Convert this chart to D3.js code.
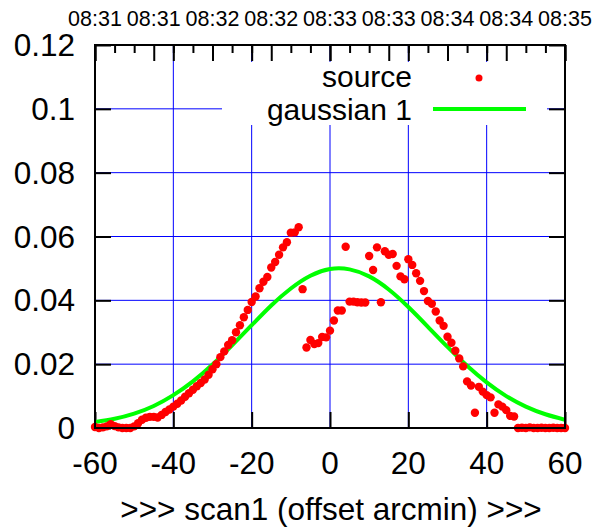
<!DOCTYPE html>
<html>
<head>
<meta charset="utf-8">
<script src="https://cdn.jsdelivr.net/npm/d3@7"></script>
<style>
html,body{margin:0;padding:0;background:#fff;}
svg{display:block;}
text{font-family:"Liberation Sans",Arial,Helvetica,sans-serif;fill:#000;}
</style>
</head>
<body>
<svg id="chart" width="603" height="529"></svg>
<script>
// ---- data ----
const scanX = [-60,-59,-58,-57,-56,-55,-54,-53,-52,-51,-50,-49,-48,-47,-46,-45,-44,-43,-42,-41,
  -40,-39,-38,-37,-36,-35,-34,-33,-32,-31,-30,-29,-28,-27,-26,-25,-24,-23,-22,-21,
  -20,-19,-18,-17,-16,-15,-14,-13,-12,-11,-10,-9,-8,-7,-6,-5,-4,-3,-2,-1,
  0,1,2,3,4,5,6,7,8,9,10,11,12,13,14,15,16,17,18,19,
  20,21,22,23,24,25,26,27,28,29,30,31,32,33,34,35,36,37,38,39,
  40,41,42,43,44,45,46,47,48,49,50,51,52,53,54,55,56,57,58,59,60];
const sourceVals = [0.0003,0.0000,0.0002,0.0005,0.0012,0.0006,0.0002,0.0000,0.0000,0.0000,
  0.0005,0.0015,0.0026,0.0032,0.0035,0.0035,0.0033,0.0041,0.0050,0.0058,
  0.0067,0.0076,0.0086,0.0098,0.0109,0.0120,0.0131,0.0141,0.0152,0.0167,
  0.0184,0.0200,0.0222,0.0240,0.0260,0.0275,0.0300,0.0322,0.0347,0.0370,
  0.0395,0.0412,0.0438,0.0458,0.0473,0.0503,0.0520,0.0543,0.0566,0.0582,
  0.0612,0.0613,0.0629,0.0435,0.0252,0.0276,0.0263,0.0266,0.0285,0.0284,
  0.0305,0.0337,0.0368,0.0368,0.0568,0.0396,0.0396,0.0394,0.0393,0.0393,
  0.0539,0.0495,0.0566,0.0394,0.0554,0.0543,0.0545,0.0508,0.0475,0.0466,
  0.0529,0.0511,0.0485,0.0461,0.0429,0.0398,0.0389,0.0365,0.0337,0.0320,
  0.0286,0.0267,0.0242,0.0218,0.0193,0.0146,0.0133,0.0048,0.0129,0.0114,
  0.0103,0.0096,0.0048,0.0074,0.0067,0.0056,0.0038,0.0036,0.0000,0.0001,
  0.0000,0.0002,0.0000,0.0000,0.0001,0.0000,0.0000,0.0001,0.0000,0.0000,0.0000];
const gaussX = [-60,-55,-50,-45,-40,-35,-30,-25,-20,-15,-10,-5,0,5,10,15,20,25,30,35,40,45,50,55,60];
const gaussVals = [0.0019,0.0029,0.0045,0.0069,0.0103,0.0146,0.0199,0.0259,0.0322,0.0384,0.0437,0.0477,
  0.0498,0.0497,0.0475,0.0434,0.0379,0.0317,0.0254,0.0195,0.0143,0.0100,0.0067,0.0043,0.0026];
const xTicks = [-60,-40,-20,0,20,40,60];
const xTickLabels = ["-60","-40","-20","0","20","40","60"];
const yTicks = [0,0.02,0.04,0.06,0.08,0.1,0.12];
const yTickLabels = ["0","0.02","0.04","0.06","0.08","0.1","0.12"];
const timeTicks = [-60,-45,-30,-15,0,15,30,45,60];
const timeLabels = ["08:31","08:31","08:32","08:32","08:33","08:33","08:34","08:34","08:35"];
const timeMinor = [-55,-50,-40,-35,-25,-20,-10,-5,5,10,20,25,35,40,50,55];
const legendNames = ["source","gaussian 1"];
const xTitle = ">>> scan1 (offset arcmin) >>>";

// ---- layout ----
const L = 95, R = 565, T = 45, B = 428;
const BIG = "31.5px", LEG = "30px", SMALL = "21.5px";
const svg = d3.select("#chart");
const x = d3.scaleLinear().domain([-60, 60]).range([L, R]);
const y = d3.scaleLinear().domain([0, 0.12]).range([B, T]);

// grid
const grid = svg.append("g");
grid.selectAll("line.gx").data(xTicks.slice(1, -1)).enter().append("line")
  .attr("x1", d => x(d)).attr("x2", d => x(d)).attr("y1", T).attr("y2", B)
  .attr("stroke", "#0000ff").attr("stroke-width", 1);
grid.selectAll("line.gy").data(yTicks.slice(1, -1)).enter().append("line")
  .attr("x1", L).attr("x2", R).attr("y1", d => y(d)).attr("y2", d => y(d))
  .attr("stroke", "#0000ff").attr("stroke-width", 1);

// legend background (covers grid)
svg.append("rect").attr("x", 222).attr("y", 62).attr("width", 325).attr("height", 63).attr("fill", "#fff");

// axes (ticks inward)
const TL = 16, TS = 8;
const axB = d3.axisBottom(x).tickValues(xTicks).tickSize(-TL).tickFormat("");
const axL = d3.axisLeft(y).tickValues(yTicks).tickSize(-TL).tickFormat("");
const axR = d3.axisRight(y).tickValues(yTicks).tickSize(-TL).tickFormat("");
const axT = d3.axisTop(x).tickValues(xTicks).tickSize(-TL).tickFormat("");
const axT2 = d3.axisTop(x).tickValues(timeTicks).tickSize(-TL).tickFormat("");
const axT2m = d3.axisTop(x).tickValues(timeMinor).tickSize(-TS).tickFormat("");
function styleAx(g){ g.select(".domain").remove(); g.selectAll("line").attr("stroke","#000").attr("stroke-width",2); }
svg.append("g").attr("transform", `translate(0,${B})`).call(axB).call(styleAx);
svg.append("g").attr("transform", `translate(${L},0)`).call(axL).call(styleAx);
svg.append("g").attr("transform", `translate(${R},0)`).call(axR).call(styleAx);
svg.append("g").attr("transform", `translate(0,${T})`).call(axT).call(styleAx);
svg.append("g").attr("transform", `translate(0,${T})`).call(axT2).call(styleAx);
svg.append("g").attr("transform", `translate(0,${T})`).call(axT2m).call(styleAx);

// tick labels
svg.append("g").selectAll("text").data(xTicks).enter().append("text")
  .attr("x", d => x(d)).attr("y", 474).attr("text-anchor", "middle")
  .style("font-size", BIG).text((d, i) => xTickLabels[i]);
svg.append("g").selectAll("text").data(yTicks).enter().append("text")
  .attr("x", 75).attr("y", d => y(d) + 11).attr("text-anchor", "end")
  .style("font-size", BIG).text((d, i) => yTickLabels[i]);
svg.append("g").selectAll("text").data(timeTicks).enter().append("text")
  .attr("x", d => x(d)).attr("y", 26).attr("text-anchor", "middle")
  .style("font-size", SMALL).text((d, i) => timeLabels[i]);
svg.append("text").attr("x", 331).attr("y", 520).attr("text-anchor", "middle")
  .style("font-size", BIG).text(xTitle);

// clip
svg.append("clipPath").attr("id", "clip").append("rect")
  .attr("x", L).attr("y", T).attr("width", R - L).attr("height", B - T);

// gaussian curve
const gData = gaussX.map((v, i) => [v, gaussVals[i]]);
svg.append("path").datum(gData)
  .attr("clip-path", "url(#clip)")
  .attr("fill", "none").attr("stroke", "#00ff00").attr("stroke-width", 4)
  .attr("d", d3.line().x(d => x(d[0])).y(d => y(d[1])).curve(d3.curveNatural));

// source points
svg.append("g").selectAll("circle").data(scanX).enter().append("circle")
  .attr("cx", d => x(d)).attr("cy", (d, i) => y(sourceVals[i])).attr("r", 4.2)
  .attr("fill", "#ff0000");

// border
svg.append("rect").attr("x", L).attr("y", T).attr("width", R - L).attr("height", B - T)
  .attr("fill", "none").attr("stroke", "#000").attr("stroke-width", 2);

// legend
svg.append("text").attr("x", 412).attr("y", 87).attr("text-anchor", "end")
  .style("font-size", LEG).text(legendNames[0]);
svg.append("circle").attr("cx", 479).attr("cy", 78).attr("r", 3.5).attr("fill", "#ff0000");
svg.append("text").attr("x", 412).attr("y", 120).attr("text-anchor", "end")
  .style("font-size", LEG).text(legendNames[1]);
svg.append("line").attr("x1", 433).attr("x2", 526).attr("y1", 109).attr("y2", 109)
  .attr("stroke", "#00ff00").attr("stroke-width", 4);
</script>
</body>
</html>
